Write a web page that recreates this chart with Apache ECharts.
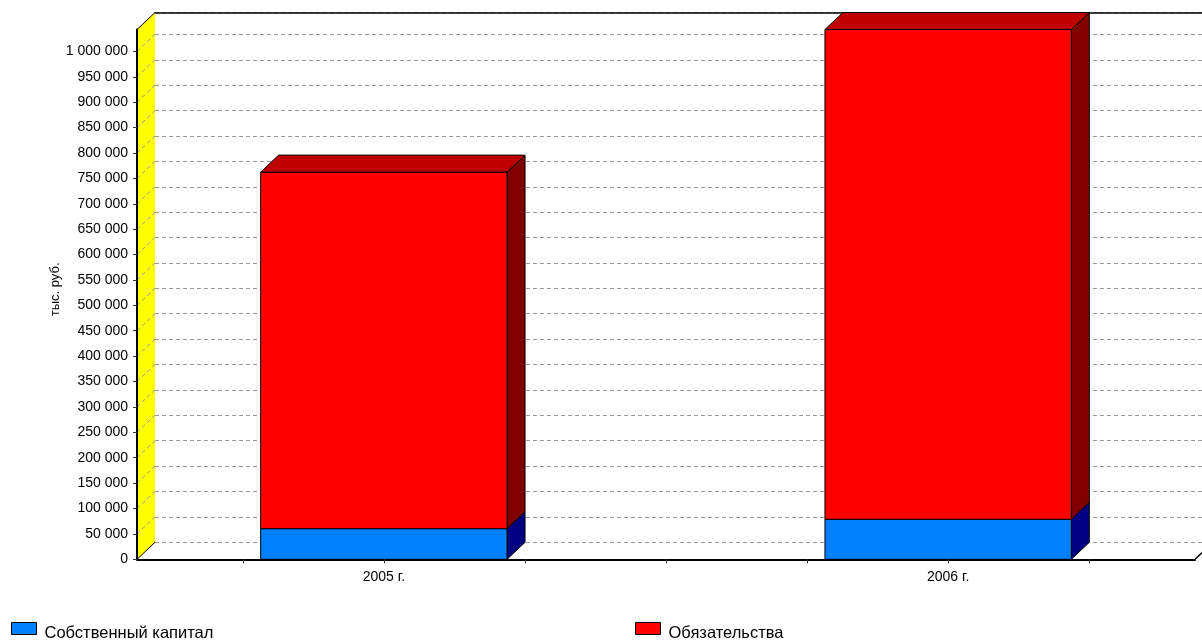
<!DOCTYPE html>
<html><head><meta charset="utf-8">
<script src="https://cdn.jsdelivr.net/npm/echarts@6/dist/echarts.min.js"></script>
<style>html,body{margin:0;padding:0;background:#fff}#c{width:1202px;height:640px}</style>
</head><body><div id="c"></div>
<script>
// ---- data ----
const categories = ['2005 г.', '2006 г.'];
const seriesNames = ['Собственный капитал', 'Обязательства'];
const equity = [60300, 78800];
const liabilities = [702000, 964300];
const yTicks = [0, 50000, 100000, 150000, 200000, 250000, 300000, 350000, 400000, 450000,
  500000, 550000, 600000, 650000, 700000, 750000, 800000, 850000, 900000, 950000, 1000000];
const xTickValues = [-0.25, 0, 0.25, 0.5, 0.75, 1, 1.25];
const categoryIndex = [0, 1];

// ---- layout / style ----
const FONT = "'Liberation Sans', Arial, sans-serif";
const DX = 18, DY = 17;
const X_MIN = -0.4375, X_MAX = 1.4375;
const BAR_W = 0.4366;
const faceColors = [
  { front: '#0080ff', side: '#000080', top: '#0060c0' },
  { front: '#ff0000', side: '#800000', top: '#bf0000' }
];
const yMax = Math.max.apply(null, equity.map((e, i) => e + liabilities[i]));

const blueData = categoryIndex.map((x, i) => [x, 0, equity[i]]);
const redData = categoryIndex.map((x, i) => [x, equity[i], equity[i] + liabilities[i]]);

function fmt(v) { return String(v).replace(/\B(?=(\d{3})+(?!\d))/g, ' '); }

function renderBar(params, api) {
  const c = faceColors[params.seriesIndex - 1];
  const x = api.value(0), lo = api.value(1), hi = api.value(2);
  const half = api.size([BAR_W, 0])[0] / 2;
  const pLo = api.coord([x, lo]), pHi = api.coord([x, hi]);
  const x0 = pLo[0] - half, x1 = pLo[0] + half, yb = pLo[1], yt = pHi[1];
  const stroke = { stroke: '#000', lineWidth: 1 };
  const children = [
    { type: 'polygon', shape: { points: [[x1, yb], [x1 + DX, yb - DY], [x1 + DX, yt - DY], [x1, yt]] },
      style: Object.assign({ fill: c.side }, stroke) },
    { type: 'rect', shape: { x: x0, y: yt, width: x1 - x0, height: yb - yt },
      style: Object.assign({ fill: c.front }, stroke) }
  ];
  if (params.seriesIndex === 2) {
    children.push({ type: 'polygon', shape: { points: [[x0, yt], [x0 + DX, yt - DY], [x1 + DX, yt - DY], [x1, yt]] },
      style: Object.assign({ fill: c.top }, stroke) });
  }
  return { type: 'group', children: children };
}

function renderWall(params, api) {
  const cs = params.coordSys;
  const p = api.coord([api.value(0), api.value(1)]);
  const children = [];
  if (params.dataIndex === 0) {
    const L = cs.x, T = cs.y, B = cs.y + cs.height, R = cs.x + cs.width;
    children.push({ type: 'polygon', shape: { points: [[L, B], [L, T], [L + DX, T - DY], [L + DX, B - DY]] },
      style: { fill: '#ffff00', stroke: null } });
    children.push({ type: 'polyline', shape: { points: [[L, T], [L + DX, T - DY]] }, style: { stroke: '#000', lineWidth: 1, fill: null } });
    children.push({ type: 'polyline', shape: { points: [[L, B], [L + DX, B - DY]] }, style: { stroke: '#000', lineWidth: 1, fill: null } });
    children.push({ type: 'polyline', shape: { points: [[R, B], [R + DX, B - DY]] }, style: { stroke: '#000', lineWidth: 1.5, fill: null } });
  }
  if (params.dataIndex > 0) {
    children.push({ type: 'line', shape: { x1: p[0], y1: p[1], x2: p[0] + DX, y2: p[1] - DY },
      style: { stroke: '#999', lineWidth: 1, lineDash: [4, 3] } });
  }
  return { type: 'group', children: children };
}

const legendText = {
  fontSize: 16.5, color: '#000', fontFamily: FONT,
  rich: { t: { fontSize: 16.5, color: '#000', fontFamily: FONT, padding: [10, 0, 0, 3] } }
};

const chart = echarts.init(document.getElementById('c'), null, { renderer: 'canvas' });
chart.setOption({
  animation: false,
  backgroundColor: '#fff',
  textStyle: { fontFamily: FONT },
  grid: [
    { left: 137, top: 29.5, right: 7, bottom: 80.7 },
    { left: 155, top: 12.5, right: -11, bottom: 97.7 }
  ],
  xAxis: [
    { type: 'value', gridIndex: 0, min: X_MIN, max: X_MAX, position: 'bottom', z: 10,
      axisLine: { show: true, onZero: false, lineStyle: { color: '#000', width: 2 } },
      axisTick: { show: true, length: 4, customValues: xTickValues, lineStyle: { color: '#333' } },
      axisLabel: { customValues: categoryIndex, margin: 11, fontSize: 14, color: '#000', fontFamily: FONT,
        formatter: v => categories[Math.round(v)] },
      splitLine: { show: false } },
    { type: 'value', gridIndex: 1, min: X_MIN, max: X_MAX, position: 'top',
      axisLine: { show: true, onZero: false, lineStyle: { color: '#000', width: 1.5 } },
      axisTick: { show: false }, axisLabel: { show: false }, splitLine: { show: false } }
  ],
  yAxis: [
    { type: 'value', gridIndex: 0, min: 0, max: yMax, position: 'left', z: 10,
      name: 'тыс. руб.', nameLocation: 'middle', nameGap: 75, nameMoveOverlap: false,
      nameTextStyle: { fontSize: 13, color: '#000', fontFamily: FONT, padding: [0, 0, 0, 10] },
      axisLine: { show: true, onZero: false, lineStyle: { color: '#000', width: 2 } },
      axisTick: { show: true, length: 4, customValues: yTicks, lineStyle: { color: '#333' } },
      axisLabel: { customValues: yTicks, margin: 9, fontSize: 14, color: '#000', fontFamily: FONT, formatter: fmt },
      splitLine: { show: false } },
    { type: 'value', gridIndex: 1, min: 0, max: yMax, interval: 50000,
      axisLine: { show: false, onZero: false }, axisTick: { show: false }, axisLabel: { show: false },
      splitLine: { show: true, lineStyle: { color: '#999', width: 1, type: [4, 3] } } }
  ],
  legend: [
    { data: [{ name: seriesNames[0], icon: 'rect' }], left: 11, top: 622, padding: 0,
      itemWidth: 25, itemHeight: 12, itemStyle: { borderColor: '#000', borderWidth: 1 },
      formatter: '{t|{name}}', textStyle: legendText },
    { data: [{ name: seriesNames[1], icon: 'rect' }], left: 635, top: 622, padding: 0,
      itemWidth: 25, itemHeight: 12, itemStyle: { borderColor: '#000', borderWidth: 1 },
      formatter: '{t|{name}}', textStyle: legendText }
  ],
  series: [
    { name: 'wall', type: 'custom', xAxisIndex: 0, yAxisIndex: 0, clip: false, z: 1, silent: true,
      renderItem: renderWall, encode: { x: 0, y: 1 },
      data: yTicks.map(v => [X_MIN, v]) },
    { name: seriesNames[0], type: 'custom', xAxisIndex: 0, yAxisIndex: 0, clip: false, z: 3,
      itemStyle: { color: faceColors[0].front }, renderItem: renderBar,
      encode: { x: 0, y: [1, 2] }, data: blueData },
    { name: seriesNames[1], type: 'custom', xAxisIndex: 0, yAxisIndex: 0, clip: false, z: 3,
      itemStyle: { color: faceColors[1].front }, renderItem: renderBar,
      encode: { x: 0, y: [1, 2] }, data: redData }
  ]
});
</script></body></html>
